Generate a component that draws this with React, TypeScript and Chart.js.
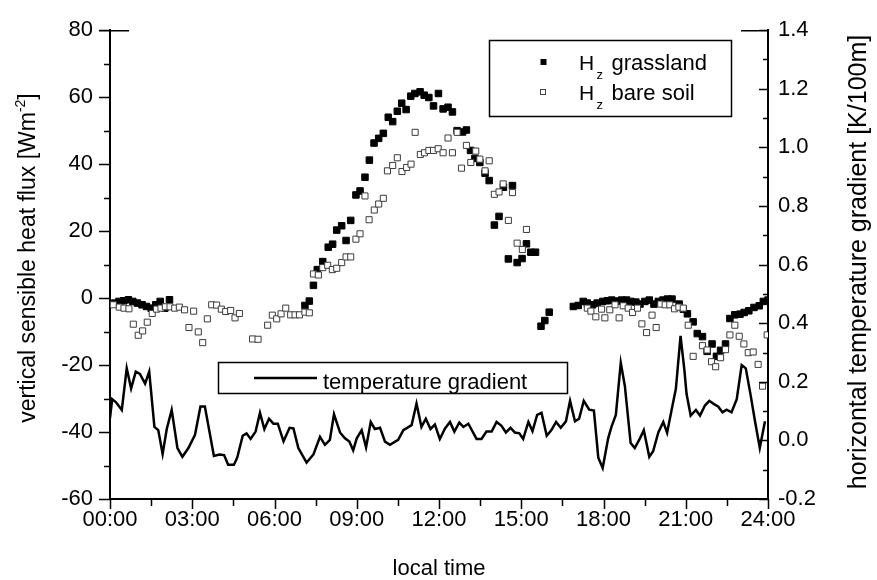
import { useEffect, useRef } from 'react';
import { Chart, registerables } from 'chart.js';

Chart.register(...registerables);

// ---- data (hours of local time) ----
const grassHour = [
  0.17, 0.33, 0.5, 0.67, 0.83, 1.0, 1.17, 1.33, 1.5, 1.67, 1.83, 2.0, 2.17,
  7.11, 7.27, 7.42, 7.56, 7.76, 7.96, 8.12, 8.27, 8.45, 8.61, 8.78, 8.97, 9.12, 9.3, 9.46, 9.63, 9.8, 9.97,
  10.15, 10.31, 10.48, 10.64, 10.8, 10.97, 11.12, 11.31, 11.46, 11.63, 11.8, 11.98, 12.15, 12.33, 12.49, 12.66,
  12.86, 13.0, 13.15, 13.31, 13.49, 13.68, 13.83, 14.02, 14.19, 14.35, 14.53, 14.68, 14.85, 15.03, 15.19, 15.35, 15.52,
  15.72, 15.86, 16.02,
  16.9, 17.08, 17.26, 17.41, 17.6, 17.77, 17.97, 18.14, 18.3, 18.48, 18.66, 18.84, 19.0, 19.18, 19.33, 19.51, 19.67,
  19.84, 20.0, 20.17, 20.33, 20.5, 20.76, 20.91, 21.06, 21.27, 21.42, 21.61, 21.78, 21.96, 22.12, 22.27, 22.45, 22.61,
  22.79, 22.98, 23.13, 23.3, 23.49, 23.68, 23.83, 24.0,
];
const grassFlux = [
  -1.5, -1.0, -0.8, -0.5, -1.0, -1.5, -2.0, -2.5, -3.0, -2.0, -1.0, -3.0, -0.5,
  -2.2, -0.9, 3.8, 8.5, 10.9, 15.2, 16.1, 20.3, 21.6, 17.2, 23.2, 30.8, 32.0, 36.1, 41.2, 46.3, 47.7, 49.2,
  54.0, 52.7, 55.8, 58.2, 56.3, 60.3, 61.1, 61.6, 60.6, 59.9, 57.4, 61.1, 56.5, 57.0, 55.6, 50.0,
  49.6, 50.2, 44.1, 41.7, 40.5, 37.3, 35.1, 21.8, 24.4, 33.1, 11.7, 33.6, 10.6, 11.8, 16.2, 13.7, 13.7,
  -8.4, -6.7, -4.2,
  -2.5, -2.2, -1.0, -1.5, -2.0, -1.5, -1.0, -0.8, -0.6, -0.9, -0.6, -0.6, -1.0, -1.2, -1.8, -1.0, -0.6,
  -1.8, -1.0, -0.6, -0.3, -0.3, -1.8, -3.3, -4.7, -7.1, -10.6, -11.5, -15.9, -13.7, -17.4, -15.6, -13.7, -6.1,
  -5.0, -4.8, -4.3, -3.8, -2.8, -2.3, -1.0, -0.6,
];

const soilHour = [
  0.12, 0.34, 0.51, 0.69, 0.85, 1.03, 1.19, 1.36, 1.54, 1.7, 1.86, 2.02, 2.19, 2.36, 2.53, 2.72, 2.88, 3.05,
  3.22, 3.38, 3.55, 3.71, 3.89, 4.06, 4.22, 4.4, 4.56, 4.72, 5.2, 5.4, 5.75, 5.92, 6.08, 6.24, 6.41, 6.59,
  6.75, 6.91, 7.11, 7.27, 7.42, 7.6, 7.76, 7.94, 8.11, 8.27, 8.45, 8.61, 8.78, 8.97, 9.12, 9.3, 9.45, 9.64,
  9.8, 9.97, 10.12, 10.31, 10.48, 10.65, 10.82, 10.98, 11.13, 11.32, 11.47, 11.63, 11.8, 11.97, 12.15, 12.33,
  12.49, 12.66, 12.82, 13.0, 13.16, 13.34, 13.49, 13.68, 13.83, 14.02, 14.19, 14.34, 14.53, 14.68, 14.85,
  15.04, 15.19,
  17.41, 17.54, 17.72, 17.93, 18.05, 18.23, 18.42, 18.57, 18.72, 18.9, 19.06, 19.24, 19.4, 19.57, 19.77,
  19.92, 20.09, 20.25, 20.42, 20.59, 20.75, 20.91, 21.09, 21.27, 21.61, 21.78, 21.94, 22.09, 22.27, 22.45,
  22.61, 22.79, 22.95, 23.12, 23.28, 23.46, 23.64, 23.8, 23.97,
];
const soilFlux = [
  -2.0, -2.7, -3.0, -3.2, -7.8, -11.1, -9.8, -7.2, -4.6, -3.3, -3.0, -2.6, -2.6, -3.0, -2.7, -3.5, -8.8, -3.9,
  -10.1, -13.3, -6.2, -2.0, -2.1, -3.3, -4.0, -3.7, -5.9, -4.6, -12.2, -12.3, -8.1, -5.1, -6.2, -4.7, -3.0, -5.0,
  -5.0, -5.0, -4.2, -4.4, 7.2, 6.9, 9.1, 9.8, 8.5, 8.9, 10.6, 12.3, 12.3, 17.6, 19.2, 30.5, 23.4, 26.3,
  28.1, 29.8, 38.0, 39.6, 41.9, 37.8, 39.0, 40.0, 49.5, 42.9, 43.4, 44.1, 44.1, 44.6, 43.4, 47.8,
  43.4, 49.5, 38.8, 45.6, 40.5, 43.9, 41.5, 38.0, 41.0, 31.0, 31.7, 34.1, 23.2, 31.5, 16.4,
  14.5, 20.5,
  -3.0, -3.9, -5.6, -3.3, -5.9, -3.5, -2.0, -5.9, -2.3, -3.0, -4.3, -3.0, -7.7, -10.3, -5.1,
  -8.8, -1.8, -2.0, -2.0, -3.2, -2.7, -3.0, -8.1, -17.4, -14.2, -15.5, -19.0, -20.5, -17.8, -15.4,
  -11.0, -8.1, -11.4, -13.7, -16.3, -16.1, -19.8, -26.3, -11.0,
];

const gradHour = [
  0.0, 0.08, 0.22, 0.43, 0.61, 0.77, 0.94, 1.09, 1.28, 1.43, 1.62, 1.76, 1.92, 2.07, 2.25, 2.46, 2.64, 2.86,
  3.1, 3.3, 3.46, 3.79, 3.99, 4.16, 4.31, 4.52, 4.64, 4.84, 4.98, 5.13, 5.31, 5.47, 5.63, 5.8, 5.96, 6.12,
  6.33, 6.55, 6.69, 6.87, 7.17, 7.42, 7.66, 7.84, 8.02, 8.17, 8.39, 8.57, 8.73, 8.87, 9.0, 9.18, 9.34, 9.51,
  9.66, 9.85, 10.03, 10.21, 10.51, 10.7, 11.0, 11.18, 11.36, 11.52, 11.69, 11.85, 12.03, 12.22, 12.4, 12.56,
  12.74, 12.89, 13.07, 13.37, 13.55, 13.73, 13.92, 14.1, 14.28, 14.44, 14.61, 14.77, 14.93, 15.07, 15.26,
  15.41, 15.58, 15.74, 15.93, 16.1, 16.27, 16.44, 16.63, 16.78, 16.96, 17.11, 17.28, 17.48, 17.65, 17.81,
  17.97, 18.17, 18.29, 18.45, 18.63, 18.78, 18.99, 19.14, 19.33, 19.47, 19.67, 19.81, 20.0, 20.18, 20.32,
  20.48, 20.64, 20.81, 20.95, 21.03, 21.18, 21.37, 21.52, 21.7, 21.86, 22.03, 22.18, 22.34, 22.49, 22.67,
  22.86, 23.04, 23.19, 23.36, 23.52, 23.7, 23.89,
];
const gradValue = [
  0.076, 0.141, 0.13, 0.104, 0.246, 0.177, 0.235, 0.227, 0.194, 0.235, 0.046, 0.035, -0.046, 0.039, 0.104, -0.026, -0.056, -0.026,
  0.019, 0.116, 0.116, -0.053, -0.048, -0.05, -0.083, -0.083, -0.059, 0.016, 0.024, 0.005, 0.03, 0.094, 0.039, 0.074, 0.057, 0.057,
  -0.003, 0.043, 0.041, -0.026, -0.076, -0.048, 0.012, -0.015, 0.002, 0.089, 0.027, 0.007, -0.004, -0.034, 0.007, 0.035, -0.024, 0.063,
  0.039, 0.043, -0.004, -0.015, 0.002, 0.035, 0.052, 0.126, 0.046, 0.074, 0.039, 0.054, 0.005, 0.041, 0.063, 0.03,
  0.061, 0.046, 0.057, 0.005, 0.005, 0.03, 0.03, 0.063, 0.05, 0.027, 0.043, 0.027, 0.024, 0.005, 0.063,
  0.032, 0.087, 0.094, 0.016, 0.035, 0.063, 0.043, 0.065, 0.135, 0.065, 0.074, 0.135, 0.105, 0.102, -0.059,
  -0.094, 0.007, 0.046, 0.087, 0.265, 0.185, -0.009, -0.026, 0.007, 0.035, -0.056, -0.037, 0.027, 0.063, 0.026,
  0.102, 0.176, 0.357, 0.241, 0.158, 0.085, 0.104, 0.085, 0.119, 0.135, 0.124, 0.116, 0.096, 0.105, 0.096,
  0.141, 0.257, 0.246, 0.158, 0.069, -0.026, 0.065,
];

const fluxRange = [-60, 80];
const gradRange = [-0.2, 1.4];
const timeRange = [0, 24];

const FONT = '"Liberation Sans", Arial, Helvetica, sans-serif';

type Part = { t: string; size: number; dy: number };

function drawParts(ctx: CanvasRenderingContext2D, parts: Part[], x: number, y: number, align: 'left' | 'center') {
  let total = 0;
  const widths = parts.map((p) => {
    ctx.font = `${p.size}px ${FONT}`;
    const w = ctx.measureText(p.t).width;
    total += w;
    return w;
  });
  let cx = align === 'center' ? x - total / 2 : x;
  ctx.textAlign = 'left';
  ctx.textBaseline = 'alphabetic';
  parts.forEach((p, i) => {
    ctx.font = `${p.size}px ${FONT}`;
    ctx.fillText(p.t, cx, y + p.dy);
    cx += widths[i];
  });
}

const decorPlugin = {
  id: 'decor',
  afterDraw(chart: any) {
    const ctx: CanvasRenderingContext2D = chart.ctx;
    const { left, right, bottom, top } = chart.chartArea;
    const sx = chart.scales.x;
    const sy = chart.scales.y;
    const sy2 = chart.scales.y2;
    ctx.save();
    ctx.strokeStyle = '#000';
    ctx.fillStyle = '#000';
    ctx.lineWidth = 1.5;
    ctx.beginPath();
    for (let v = fluxRange[0]; v <= fluxRange[1]; v += 10) {
      const py = Math.round(sy.getPixelForValue(v)) + 0.5;
      const len = v % 20 === 0 ? 11 : 6;
      ctx.moveTo(left - len, py);
      ctx.lineTo(left, py);
    }
    for (let t = timeRange[0]; t <= timeRange[1] + 1e-6; t += 1.5) {
      const px = Math.round(sx.getPixelForValue(t)) + 0.5;
      const len = Math.abs(t % 3) < 1e-6 ? 10 : 7;
      ctx.moveTo(px, bottom);
      ctx.lineTo(px, bottom + len);
    }
    for (let i = 0; i <= 16; i++) {
      const v = gradRange[0] + i * 0.1;
      const py = Math.round(sy2.getPixelForValue(v)) + 0.5;
      const len = i % 2 === 0 ? 9 : 5;
      ctx.moveTo(right - len, py);
      ctx.lineTo(right, py);
    }
    ctx.moveTo(left - 11, top + 0.5);
    ctx.lineTo(left + 19, top + 0.5);
    ctx.moveTo(right - 27, top + 0.5);
    ctx.lineTo(right, top + 0.5);
    ctx.stroke();

    ctx.save();
    ctx.translate(35, 258);
    ctx.rotate(-Math.PI / 2);
    drawParts(ctx, [
      { t: 'vertical sensible heat flux [Wm', size: 23, dy: 0 },
      { t: '-2', size: 14, dy: -10 },
      { t: ']', size: 23, dy: 0 },
    ], 0, 0, 'center');
    ctx.restore();

    ctx.save();
    ctx.translate(866, 262);
    ctx.rotate(-Math.PI / 2);
    drawParts(ctx, [{ t: 'horizontal temperature gradient [K/100m]', size: 25, dy: 0 }], 0, 0, 'center');
    ctx.restore();

    drawParts(ctx, [{ t: 'local time', size: 22, dy: 0 }], 439, 575, 'center');

    ctx.lineWidth = 1.5;
    ctx.strokeRect(489.5, 40.5, 242, 76);
    ctx.fillRect(540.5, 59, 6, 6);
    ctx.lineWidth = 1;
    ctx.strokeStyle = '#444';
    ctx.fillStyle = '#fff';
    ctx.fillRect(540.5, 89.5, 5, 5);
    ctx.strokeRect(540.5, 89.5, 5, 5);
    ctx.strokeStyle = '#000';
    ctx.fillStyle = '#000';
    drawParts(ctx, [{ t: 'H', size: 21, dy: 0 }], 579, 70, 'left');
    drawParts(ctx, [{ t: 'z', size: 13, dy: 0 }], 596.5, 79, 'left');
    drawParts(ctx, [{ t: 'grassland', size: 22, dy: 0 }], 611.5, 70, 'left');
    drawParts(ctx, [{ t: 'H', size: 21, dy: 0 }], 579, 100, 'left');
    drawParts(ctx, [{ t: 'z', size: 13, dy: 0 }], 596.5, 109, 'left');
    drawParts(ctx, [{ t: 'bare soil', size: 22, dy: 0 }], 611.5, 100, 'left');

    ctx.lineWidth = 1.5;
    ctx.strokeRect(218.5, 362.5, 349, 31);
    ctx.lineWidth = 2.5;
    ctx.beginPath();
    ctx.moveTo(254, 378);
    ctx.lineTo(317, 378);
    ctx.stroke();
    drawParts(ctx, [{ t: 'temperature gradient', size: 22, dy: 0 }], 323, 389, 'left');
    ctx.restore();
  },
};

export default function App() {
  const ref = useRef<HTMLCanvasElement | null>(null);
  useEffect(() => {
    if (!ref.current) return;
    const tickFont = { family: FONT, size: 22 };
    const chart = new Chart(ref.current, {
      type: 'scatter',
      data: {
        datasets: [
          {
            label: 'grad',
            data: gradHour.map((t, i) => ({ x: t, y: gradValue[i] })),
            yAxisID: 'y2',
            showLine: true,
            pointRadius: 0,
            borderColor: '#000',
            borderWidth: 2.5,
            tension: 0,
            order: 0,
          } as any,
          {
            label: 'soil',
            data: soilHour.map((t, i) => ({ x: t, y: soilFlux[i] })),
            yAxisID: 'y',
            pointStyle: 'rect',
            pointRadius: 4.3,
            backgroundColor: '#fff',
            borderColor: '#3c3c3c',
            borderWidth: 1,
            order: 1,
          },
          {
            label: 'grass',
            data: grassHour.map((t, i) => ({ x: t, y: grassFlux[i] })),
            yAxisID: 'y',
            pointStyle: 'rect',
            pointRadius: 4.6,
            backgroundColor: '#000',
            borderColor: '#000',
            borderWidth: 1,
            order: 2,
          },
        ],
      },
      options: {
        responsive: false,
        animation: false,
        devicePixelRatio: 1,
        layout: { padding: { top: 18, left: 0, right: 0, bottom: 0 } },
        plugins: { legend: { display: false }, tooltip: { enabled: false } },
        scales: {
          x: {
            type: 'linear',
            position: 'bottom',
            min: timeRange[0],
            max: timeRange[1],
            ticks: {
              stepSize: 3,
              autoSkip: false,
              maxRotation: 0,
              padding: 8,
              color: '#000',
              font: tickFont,
              callback: (v: any) => (Number(v) < 10 ? '0' : '') + Number(v) + ':00',
            },
            grid: { display: true, drawOnChartArea: false, drawTicks: false },
            border: { display: true, color: '#000', width: 2 },
            afterFit: (s: any) => { s.height = 81; },
          },
          y: {
            type: 'linear',
            position: 'left',
            min: fluxRange[0],
            max: fluxRange[1],
            ticks: {
              stepSize: 20,
              padding: 17,
              color: '#000',
              font: tickFont,
              callback: (v: any) => String(Math.round(Number(v))),
            },
            grid: { display: true, drawOnChartArea: false, drawTicks: false },
            border: { display: true, color: '#000', width: 2 },
            afterFit: (s: any) => { s.width = 110; },
          },
          y2: {
            type: 'linear',
            position: 'right',
            min: gradRange[0],
            max: gradRange[1],
            ticks: {
              stepSize: 0.2,
              padding: 10,
              color: '#000',
              font: tickFont,
              callback: (v: any) => {
                const n = Number(v);
                return (Math.abs(n) < 1e-9 ? 0 : n).toFixed(1);
              },
            },
            grid: { display: true, drawOnChartArea: false, drawTicks: false },
            border: { display: true, color: '#000', width: 2 },
            afterFit: (s: any) => { s.width = 109; },
          },
        },
      } as any,
      plugins: [decorPlugin],
    });
    return () => chart.destroy();
  }, []);
  return (
    <div style={{ position: 'fixed', left: 0, top: 0, width: 877, height: 580, background: '#fff' }}>
      <canvas ref={ref} width={877} height={580} />
    </div>
  );
}
